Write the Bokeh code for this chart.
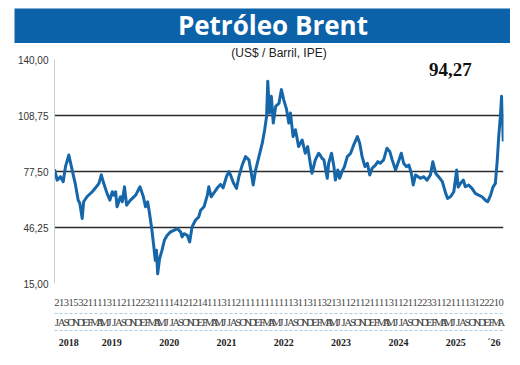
from bokeh.plotting import figure
from bokeh.layouts import column, row
from bokeh.models import Range1d, FixedTicker, LinearAxis, Label, Spacer
from bokeh.embed import file_html
from bokeh.resources import INLINE

# ---- data -------------------------------------------------------------
# time in months since 1 July 2018
t_months = [0.0, 0.56, 1.26, 1.82, 2.3, 3.0, 3.7, 4.4, 4.96, 5.3, 5.8, 6.1, 6.8, 7.9, 8.6,
            9.3, 9.8, 10.3, 11.0, 11.6, 12.1, 12.4, 12.8, 13.1, 13.8, 14.2, 14.65, 15.1,
            15.9, 17.0, 17.9, 18.6, 19.05, 19.5, 19.9, 20.4, 20.8, 21.1, 21.35, 21.6, 22.0,
            22.5, 23.0, 23.6, 24.3, 25.0, 25.7, 26.4, 26.7, 27.1, 27.8, 28.3, 28.8, 29.5,
            30.2, 30.6, 31.3, 32.0, 32.3, 32.8, 33.3, 34.1, 34.75, 35.3, 36.0, 36.5, 36.85,
            37.5, 38.1, 38.6, 39.3, 40.0, 40.7, 41.2, 41.6, 42.1, 42.8, 43.5, 44.0, 44.4,
            44.65, 45.0, 45.4, 45.8, 46.3, 47.0, 47.5, 48.0, 48.6, 49.05, 49.4, 49.95, 50.45,
            51.1, 51.85, 52.5, 53.0, 53.6, 53.9, 54.6, 55.3, 55.6, 56.0, 56.4, 57.1, 57.4,
            58.0, 58.5, 58.8, 59.3, 59.7, 60.2, 60.7, 61.3, 62.0, 62.65, 63.4, 63.9, 64.4,
            65.0, 65.5, 66.0, 66.5, 67.2, 67.7, 68.2, 68.9, 69.6, 70.2, 70.7, 71.4, 71.9,
            72.6, 73.1, 73.7, 74.2, 74.7, 75.1, 75.6, 76.6, 77.3, 78.0, 78.7, 79.2, 79.8,
            80.4, 81.2, 81.9, 82.3, 82.9, 83.6, 84.2, 84.5, 85.0, 85.6, 86.0, 86.7, 87.4,
            88.1, 88.8, 89.5, 90.2, 90.7, 91.3, 91.8, 92.3, 92.7, 93.0, 93.35, 93.6, 93.8,
            93.95]
brent = [78.7, 72.7, 74.6, 71.8, 80.2, 86.7, 78.3, 70.0, 61.5, 59.8, 51.3, 60.6, 63.4, 66.2,
         68.4, 70.9, 75.6, 70.9, 65.3, 61.5, 66.2, 64.3, 66.2, 57.8, 63.4, 60.6, 69.0, 58.7,
         61.5, 64.3, 69.0, 63.4, 57.8, 60.6, 54.1, 44.7, 35.4, 27.9, 33.5, 20.4, 28.9, 33.5,
         39.1, 41.9, 43.8, 44.7, 45.6, 43.8, 41.0, 42.8, 41.9, 38.2, 46.6, 50.3, 52.2, 55.9,
         57.8, 64.3, 69.0, 63.4, 65.3, 68.4, 70.3, 68.4, 74.6, 77.4, 75.6, 70.9, 68.1, 74.6,
         81.1, 85.8, 84.0, 76.5, 70.0, 78.3, 85.8, 93.3, 100.8, 108.2, 127.9, 110.1, 119.5,
         104.5, 113.8, 115.6, 123.2, 117.5, 112.0, 104.5, 110.1, 97.0, 100.8, 91.4, 95.1,
         87.7, 91.4, 81.1, 76.5, 84.0, 87.7, 86.7, 84.9, 84.0, 73.7, 82.1, 87.7, 80.2, 72.7,
         78.3, 73.7, 77.4, 80.2, 85.8, 87.7, 92.4, 97.0, 93.3, 85.8, 80.2, 82.1, 75.6, 79.3,
         81.1, 83.0, 82.1, 84.0, 90.5, 88.6, 84.0, 78.3, 82.1, 87.7, 82.1, 80.2, 81.1, 76.5,
         70.0, 75.6, 73.7, 74.6, 72.7, 75.6, 83.0, 76.5, 74.6, 71.8, 65.3, 62.5, 63.4, 66.2,
         78.3, 68.8, 70.9, 72.7, 69.0, 69.9, 68.1, 65.3, 64.3, 63.4, 61.5, 60.6, 64.3, 68.8,
         70.9, 84.0, 97.0, 108.2, 119.5, 108.2, 94.27]

y_ticks = [15.0, 46.25, 77.5, 108.75, 140.0]
y_tick_labels = ["15,00", "46,25", "77,50", "108,75", "140,00"]

month_letters = list("JASOND") + list("EFMAMJJASOND") * 7 + list("EFMA")
day_digits = ("2131532111131121122321111412121411131121111"
              "111111131131132131121121111311211223311211113122210")

years = ["2018", "2019", "2020", "2021", "2022", "2023", "2024", "2025", "\u00b426"]
year_start = [0, 6, 18, 30, 42, 54, 66, 78, 90]
year_end = [6, 18, 30, 42, 54, 66, 78, 90, 94]

title_text = "Petr\u00f3leo Brent"
subtitle_text = "(US$ / Barril, IPE)"

BLUE_BAR = "#0b62a9"

# ---- header bar (blue frame, white top border) ---------------------------
h = figure(width=496, height=43, x_range=Range1d(0, 1), y_range=Range1d(0, 1),
           toolbar_location=None, output_backend="svg",
           x_axis_location=None, y_axis_location=None,
           min_border_left=0, min_border_right=0, min_border_top=8, min_border_bottom=0,
           background_fill_color=BLUE_BAR, border_fill_color="white",
           outline_line_color=None)
h.grid.visible = False
h.add_layout(Label(x=0.521, y=0.52, text=title_text, text_align="center",
                   text_baseline="middle", text_color="white", text_font="Open Sans",
                   text_font_style="bold", text_font_size="26px"))

# ---- main chart ---------------------------------------------------------
n_months = len(month_letters)
p = figure(width=520, height=322, x_range=Range1d(0, n_months), y_range=Range1d(15, 140),
           toolbar_location=None, output_backend="svg",
           min_border_left=54, min_border_right=17, min_border_top=14, min_border_bottom=82,
           outline_line_color=None, border_fill_color="white", background_fill_color="white",
           title=subtitle_text)
p.title.align = "center"
p.title.text_font = "Liberation Sans"
p.title.text_font_size = "12px"
p.title.text_font_style = "normal"
p.title.text_color = "#222222"
p.title.standoff = 0

p.line(t_months, brent, line_color="#1666aa", line_width=3, line_join="round")

last_label = f"{brent[-1]:.2f}".replace(".", ",")
p.add_layout(Label(x=82.9, y=134.6, text=last_label, text_align="center",
                   text_baseline="middle", text_font="Liberation Serif",
                   text_font_style="bold", text_font_size="19px", text_color="#111111"))

# y axis
yax = p.yaxis[0]
yax.ticker = FixedTicker(ticks=y_ticks)
yax.major_label_overrides = dict(zip(y_ticks, y_tick_labels))
yax.major_tick_line_color = None
yax.minor_tick_line_color = None
yax.major_tick_out = 0
yax.major_tick_in = 0
yax.axis_line_color = "#d0d0d0"
yax.major_label_standoff = 6
yax.major_label_text_font = "Liberation Sans"
yax.major_label_text_font_size = "10px"
yax.major_label_text_color = "#333333"

p.xgrid.visible = False
p.ygrid.ticker = FixedTicker(ticks=y_ticks)
p.ygrid.grid_line_color = "#2b2b2b"
p.ygrid.grid_line_width = 1.6


def style_axis(ax, font_size, bold=False, color="#333333"):
    ax.major_tick_line_color = None
    ax.minor_tick_line_color = None
    ax.major_tick_out = 0
    ax.major_tick_in = 0
    ax.major_label_text_font = "Liberation Sans Narrow"
    ax.major_label_text_font_size = font_size
    ax.major_label_text_font_style = "bold" if bold else "normal"
    ax.major_label_text_color = color


month_centers = [i + 0.5 for i in range(n_months)]

# row of digits
dax = p.below[0]
dax.ticker = FixedTicker(ticks=month_centers)
dax.major_label_overrides = {c: d for c, d in zip(month_centers, day_digits)}
style_axis(dax, "10.5px", color="#444444")
dax.axis_line_color = None
dax.major_label_standoff = 15
dax.axis_label = " "
dax.axis_label_text_font_size = "1px"
dax.axis_label_standoff = 1

# row of month letters
max_ = LinearAxis(ticker=FixedTicker(ticks=month_centers),
                  major_label_overrides={c: m for c, m in zip(month_centers, month_letters)})
style_axis(max_, "11px", color="#444444")
max_.axis_line_color = "#a9cde8"
max_.axis_line_dash = "3 2"
max_.axis_line_width = 1
max_.major_label_standoff = 2
p.add_layout(max_, "below")

# row of years
year_centers = [(a + b) / 2 for a, b in zip(year_start, year_end)]
yrax = LinearAxis(ticker=FixedTicker(ticks=year_centers),
                  major_label_overrides={c: y for c, y in zip(year_centers, years)})
style_axis(yrax, "10px", bold=True, color="#222222")
yrax.axis_line_color = "#a9cde8"
yrax.axis_line_dash = "3 2"
yrax.axis_line_width = 1
yrax.major_label_standoff = 6
p.add_layout(yrax, "below")

layout = column(row(Spacer(width=14), h, spacing=0), p, spacing=0)
open("out.html", "w").write(file_html(layout, INLINE))
